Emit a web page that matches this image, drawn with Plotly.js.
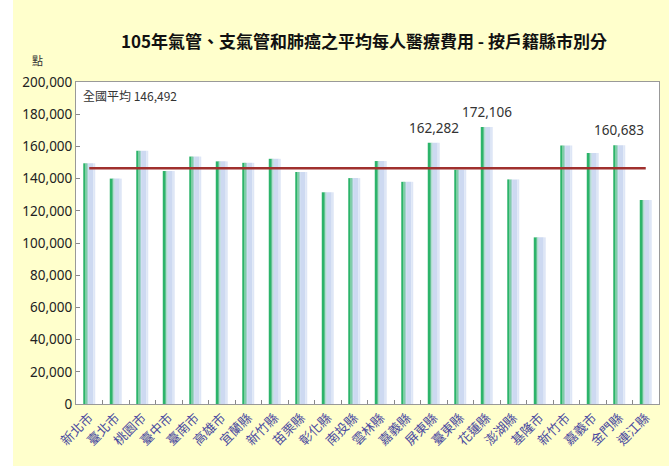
<!DOCTYPE html>
<html>
<head>
<meta charset="utf-8">
<script src="https://cdn.plot.ly/plotly-3.0.1.min.js"></script>
<style>
  html, body { margin: 0; padding: 0; background: #ffffff; }
  #chart { position: absolute; left: 13px; top: 0; width: 656px; height: 466px; }
</style>
</head>
<body>
<div id="chart"></div>
<script>
// ---- data ----
const counties = ["新北市","臺北市","桃園市","臺中市","臺南市","高雄市","宜蘭縣","新竹縣","苗栗縣","彰化縣","南投縣",
                  "雲林縣","嘉義縣","屏東縣","臺東縣","花蓮縣","澎湖縣","基隆市","新竹市","嘉義市","金門縣","連江縣"];
const costs = [149500, 140000, 157300, 144700, 153700, 150700, 149800, 152300, 144100, 131500, 140300,
               150900, 138000, 162282, 145500, 172106, 139500, 103500, 160600, 155900, 160683, 126700];
const nationalAvg = 146492;
const labelled = ["屏東縣", "花蓮縣", "金門縣"];
const titleText = "105年氣管、支氣管和肺癌之平均每人醫療費用 - 按戶籍縣市別分";
const yUnit = "點";

// ---- build ----
const fmt = v => v.toLocaleString("en-US");
const strips = [
  {offset: -0.226, width: 0.085, color: "#2cb46a"},
  {offset: -0.141, width: 0.05,  color: "#62c292"},
  {offset: -0.091, width: 0.05,  color: "#a3d3cc"},
  {offset: -0.041, width: 0.19,  color: "#cdd9f1"},
  {offset: 0.149,  width: 0.077, color: "#dee6f6"}
];
const traces = strips.map(s => ({
  type: "bar", x: counties, y: costs,
  offset: s.offset, width: s.width,
  marker: {color: s.color, line: {width: 0}},
  hoverinfo: "skip", showlegend: false
}));
traces.push({
  type: "scatter", mode: "lines",
  x: [counties[0], counties[counties.length - 1]],
  y: [nationalAvg, nationalAvg],
  line: {color: "#a0302e", width: 2.5},
  hoverinfo: "skip", showlegend: false
});

const annotations = labelled.map(c => {
  const v = costs[counties.indexOf(c)];
  return {x: c, y: v, xref: "x", yref: "y", text: fmt(v), showarrow: false,
          yanchor: "bottom", yshift: 4, font: {family: "Noto Sans", size: 13.5, color: "#333"}};
});
annotations.push({
  xref: "paper", yref: "paper", x: 0.008, y: 0.957, xanchor: "left", yanchor: "middle",
  text: "全國平均 " + fmt(nationalAvg), showarrow: false,
  font: {family: "Noto Sans CJK TC", size: 12, color: "#333"}
});
annotations.push({
  xref: "paper", yref: "paper", x: -0.066, y: 1.067, xanchor: "center", yanchor: "middle",
  text: yUnit, showarrow: false,
  font: {family: "Noto Sans CJK TC", size: 11, color: "#333"}
});

const layout = {
  width: 656, height: 466,
  paper_bgcolor: "#ffffcc",
  plot_bgcolor: "#ffffff",
  margin: {l: 63, r: 10, t: 82, b: 62},
  barmode: "overlay",
  title: {
    text: titleText, xref: "container", x: 0.535, xanchor: "center",
    yref: "container", y: 0.91, yanchor: "middle",
    font: {family: "Noto Sans CJK TC", size: 17, color: "#111", weight: 700}
  },
  xaxis: {
    type: "category", range: [-0.5, counties.length - 0.5],
    tickangle: -45, tickson: "boundaries", ticks: "inside", ticklen: 4, tickcolor: "#888",
    showline: true, linecolor: "#999", linewidth: 1, mirror: true, showgrid: false,
    tickfont: {family: "Noto Sans CJK TC", size: 13, color: "#4b4ba0"}
  },
  yaxis: {
    range: [0, 200000], dtick: 20000, tickformat: ",",
    ticks: "inside", ticklen: 4, tickcolor: "#888",
    showline: true, linecolor: "#999", linewidth: 1, mirror: true,
    showgrid: false, zeroline: false,
    tickfont: {family: "Noto Sans", size: 13.5, color: "#222"}
  },
  annotations: annotations
};

Plotly.newPlot("chart", traces, layout, {displayModeBar: false, staticPlot: true});
</script>
</body>
</html>
